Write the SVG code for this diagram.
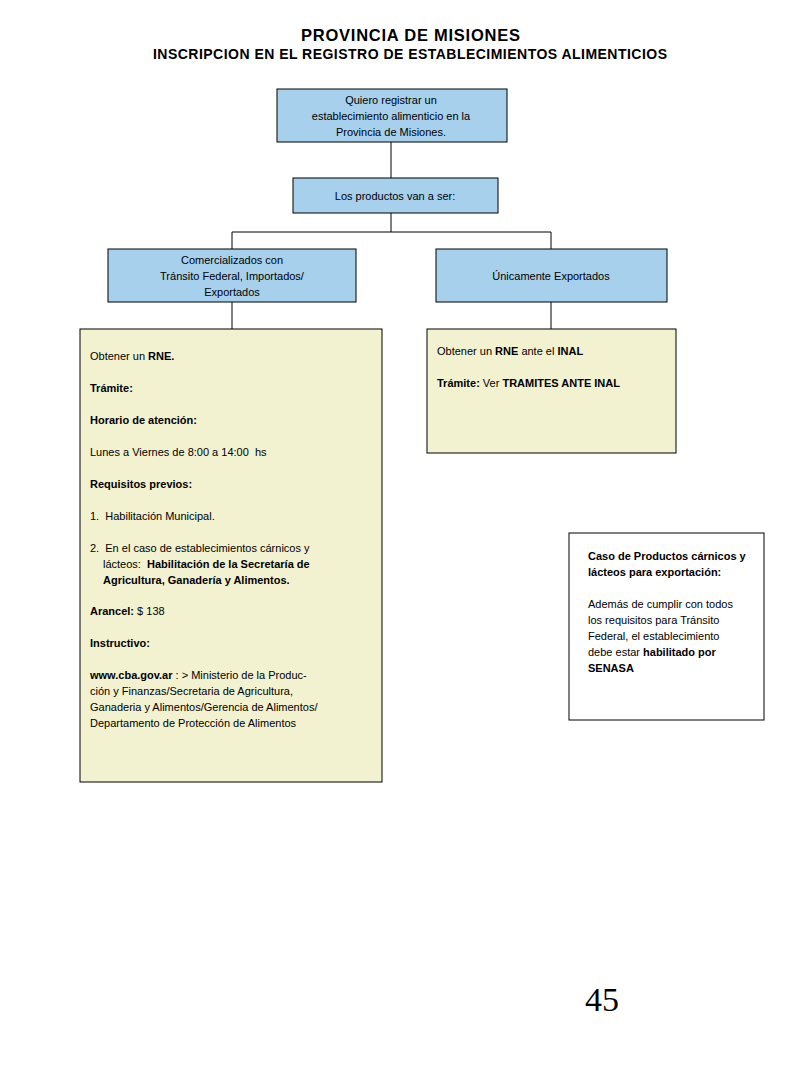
<svg xmlns="http://www.w3.org/2000/svg" width="800" height="1066" viewBox="0 0 800 1066">
<style>
.blue{fill:#a6d0ec;stroke:#000;stroke-width:1}
.yel{fill:#f2f2d0;stroke:#000;stroke-width:1}
.wht{fill:#fff;stroke:#000;stroke-width:1}
text{font-family:"Liberation Sans",Arial,sans-serif;fill:#000;white-space:pre}
.t{font-size:11px}
.c{text-anchor:middle}
.b{font-weight:bold}
.con line{stroke:#000;stroke-width:1}
</style>
<rect width="800" height="1066" fill="#fff"/>
<g id="title">
<text x="301" y="41" class="b" font-size="16.5" textLength="219" lengthAdjust="spacing">PROVINCIA DE MISIONES</text>
<text x="153" y="59" class="b" font-size="14" textLength="514" lengthAdjust="spacing">INSCRIPCION EN EL REGISTRO DE ESTABLECIMIENTOS ALIMENTICIOS</text>
</g>
<g class="con" id="connectors">
<line x1="391" y1="142" x2="391" y2="178"/>
<line x1="391" y1="213" x2="391" y2="232"/>
<line x1="232" y1="232" x2="551" y2="232"/>
<line x1="232" y1="232" x2="232" y2="249"/>
<line x1="551" y1="232" x2="551" y2="249"/>
<line x1="232" y1="302" x2="232" y2="329"/>
<line x1="551" y1="302" x2="551" y2="329"/>
</g>
<g id="n1">
<rect class="blue" x="277" y="89" width="230" height="53"/>
<text class="t c" x="391" y="104">Quiero registrar un</text>
<text class="t c" x="391" y="120">establecimiento alimenticio en la</text>
<text class="t c" x="391" y="136">Provincia de Misiones.</text>
</g>
<g id="n2">
<rect class="blue" x="293" y="178" width="205" height="35"/>
<text class="t c" x="395" y="200">Los productos van a ser:</text>
</g>
<g id="n3">
<rect class="blue" x="108" y="249" width="248" height="53"/>
<text class="t c" x="232" y="264">Comercializados con</text>
<text class="t c" x="232" y="280">Tránsito Federal, Importados/</text>
<text class="t c" x="232" y="296">Exportados</text>
</g>
<g id="n4">
<rect class="blue" x="436" y="249" width="231" height="53"/>
<text class="t c" x="551" y="280">Únicamente Exportados</text>
</g>
<g id="n5">
<rect class="yel" x="80" y="329" width="302" height="453"/>
<text class="t" x="90" y="360">Obtener un <tspan class="b">RNE.</tspan></text>
<text class="t b" x="90" y="392">Trámite:</text>
<text class="t b" x="90" y="424">Horario de atención:</text>
<text class="t" x="90" y="456">Lunes a Viernes de 8:00 a 14:00  hs</text>
<text class="t b" x="90" y="488">Requisitos previos:</text>
<text class="t" x="90" y="520">1.  Habilitación Municipal.</text>
<text class="t" x="90" y="552">2.  En el caso de establecimientos cárnicos y</text>
<text class="t" x="103" y="568">lácteos:  <tspan class="b">Habilitación de la Secretaría de</tspan></text>
<text class="t b" x="103" y="584">Agricultura, Ganadería y Alimentos.</text>
<text class="t" x="90" y="615"><tspan class="b">Arancel:</tspan> $ 138</text>
<text class="t b" x="90" y="647">Instructivo:</text>
<text class="t" x="90" y="679"><tspan class="b">www.cba.gov.ar</tspan> : &gt; Ministerio de la Produc-</text>
<text class="t" x="90" y="695">ción y Finanzas/Secretaria de Agricultura,</text>
<text class="t" x="90" y="711">Ganaderia y Alimentos/Gerencia de Alimentos/</text>
<text class="t" x="90" y="727">Departamento de Protección de Alimentos</text>
</g>
<g id="n6">
<rect class="yel" x="427" y="329" width="249" height="124"/>
<text class="t" x="437" y="355">Obtener un <tspan class="b">RNE</tspan> ante el <tspan class="b">INAL</tspan></text>
<text class="t" x="437" y="387"><tspan class="b">Trámite:</tspan> Ver <tspan class="b">TRAMITES ANTE INAL</tspan></text>
</g>
<g id="n7">
<rect class="wht" x="569" y="533" width="195" height="187"/>
<text class="t b" x="588" y="560">Caso de Productos cárnicos y</text>
<text class="t b" x="588" y="576">lácteos para exportación:</text>
<text class="t" x="588" y="608">Además de cumplir con todos</text>
<text class="t" x="588" y="624">los requisitos para Tránsito</text>
<text class="t" x="588" y="640">Federal, el establecimiento</text>
<text class="t" x="588" y="656">debe estar <tspan class="b">habilitado por</tspan></text>
<text class="t b" x="588" y="672">SENASA</text>
</g>
<g id="page">
<text x="602" y="1011" class="c" font-size="34" style="font-family:'Liberation Serif',serif">45</text>
</g>
</svg>
